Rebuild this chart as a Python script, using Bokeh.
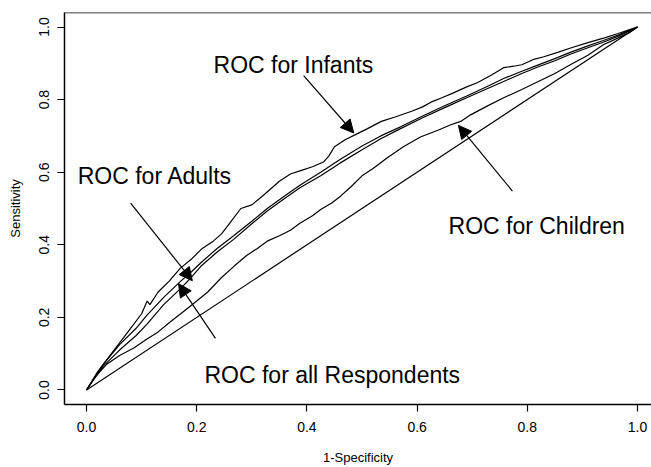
from bokeh.plotting import figure
from bokeh.models import Range1d, Arrow, NormalHead, Span, Label, FixedTicker
from bokeh.embed import file_html
from bokeh.resources import INLINE

# ---- data ----
chance_x = [0.0, 1.0]
chance_y = [0.0, 1.0]

infants_x = [0.0, 0.02, 0.04, 0.06, 0.08, 0.10, 0.11, 0.115, 0.13, 0.15, 0.17, 0.19, 0.21, 0.23,
             0.245, 0.26, 0.28, 0.30, 0.32, 0.335, 0.35, 0.37, 0.39, 0.41, 0.43, 0.44, 0.45, 0.47,
             0.49, 0.51, 0.535, 0.56, 0.59, 0.61, 0.625, 0.645, 0.665, 0.69, 0.71, 0.735, 0.757,
             0.775, 0.79, 0.81, 0.83, 0.855, 0.88, 0.91, 0.94, 0.965, 0.99, 1.0]
infants_y = [0.0, 0.05, 0.09, 0.13, 0.17, 0.21, 0.245, 0.235, 0.27, 0.30, 0.335, 0.36, 0.39, 0.41,
             0.43, 0.46, 0.50, 0.51, 0.535, 0.555, 0.575, 0.595, 0.605, 0.615, 0.628, 0.645, 0.67, 0.69,
             0.705, 0.72, 0.74, 0.752, 0.768, 0.78, 0.793, 0.805, 0.818, 0.835, 0.847, 0.868, 0.888,
             0.892, 0.896, 0.91, 0.918, 0.93, 0.943, 0.957, 0.97, 0.982, 0.995, 1.0]

adults_x = [0.0, 0.03, 0.06, 0.09, 0.109, 0.14, 0.171, 0.19, 0.207, 0.237, 0.267, 0.30, 0.328, 0.36,
            0.388, 0.425, 0.46, 0.50, 0.534, 0.57, 0.61, 0.65, 0.69, 0.73, 0.757, 0.79, 0.819, 0.85,
            0.878, 0.91, 0.938, 0.965, 0.987, 1.0]
adults_y = [0.0, 0.07, 0.125, 0.17, 0.205, 0.255, 0.30, 0.325, 0.35, 0.39, 0.425, 0.465, 0.50, 0.535,
            0.565, 0.60, 0.635, 0.672, 0.70, 0.725, 0.755, 0.783, 0.81, 0.838, 0.858, 0.878, 0.895, 0.913,
            0.93, 0.948, 0.963, 0.978, 0.992, 1.0]

all_x = [0.0, 0.03, 0.06, 0.09, 0.109, 0.14, 0.171, 0.19, 0.207, 0.237, 0.267, 0.30, 0.328, 0.36,
         0.388, 0.425, 0.46, 0.50, 0.534, 0.57, 0.61, 0.65, 0.69, 0.73, 0.757, 0.79, 0.819, 0.85,
         0.878, 0.91, 0.938, 0.965, 0.987, 1.0]
all_y = [0.0, 0.065, 0.11, 0.15, 0.18, 0.235, 0.28, 0.31, 0.34, 0.38, 0.415, 0.458, 0.493, 0.528,
         0.558, 0.59, 0.625, 0.662, 0.692, 0.72, 0.75, 0.778, 0.805, 0.832, 0.85, 0.872, 0.89, 0.907,
         0.925, 0.943, 0.958, 0.975, 0.99, 1.0]

children_x = [0.0, 0.015, 0.036, 0.06, 0.085, 0.109, 0.13, 0.15, 0.175, 0.20, 0.22, 0.245, 0.267, 0.29,
              0.31, 0.328, 0.35, 0.37, 0.388, 0.41, 0.425, 0.445, 0.461, 0.48, 0.50, 0.52, 0.546, 0.575,
              0.606, 0.64, 0.66, 0.679, 0.697, 0.727, 0.757, 0.79, 0.819, 0.85, 0.878, 0.91, 0.938,
              0.965, 0.987, 1.0]
children_y = [0.0, 0.035, 0.07, 0.095, 0.115, 0.14, 0.16, 0.185, 0.215, 0.245, 0.27, 0.31, 0.34, 0.37,
              0.39, 0.41, 0.425, 0.44, 0.46, 0.48, 0.497, 0.515, 0.534, 0.56, 0.59, 0.61, 0.64, 0.67,
              0.697, 0.717, 0.73, 0.74, 0.758, 0.782, 0.805, 0.828, 0.849, 0.872, 0.896, 0.922, 0.951,
              0.97, 0.986, 1.0]

tick_values = [0.0, 0.2, 0.4, 0.6, 0.8, 1.0]
tick_labels = ["0.0", "0.2", "0.4", "0.6", "0.8", "1.0"]

# annotation texts: (text, x, y) and arrows: (x_start, y_start, x_end, y_end)
notes = [
    ("ROC for Infants", 0.2305, 0.896),
    ("ROC for Adults", -0.016, 0.589),
    ("ROC for Children", 0.657, 0.452),
    ("ROC for all Respondents", 0.214, 0.041),
]
arrows = [
    (0.394, 0.866, 0.485, 0.708),
    (0.773, 0.548, 0.675, 0.729),
    (0.080, 0.515, 0.192, 0.301),
    (0.234, 0.142, 0.167, 0.293),
]

FONT = "Liberation Sans"

p = figure(width=651, height=467, output_backend="svg", toolbar_location=None,
           x_range=Range1d(-0.04, 1.0254), y_range=Range1d(-0.04, 1.04),
           min_border_left=64, min_border_right=0, min_border_top=12, min_border_bottom=60)
p.outline_line_color = None
p.grid.visible = False
p.background_fill_color = "white"
p.border_fill_color = "white"

curves = [(chance_x, chance_y), (infants_x, infants_y), (adults_x, adults_y),
          (all_x, all_y), (children_x, children_y)]
for xs, ys in curves:
    p.line(xs, ys, line_color="black", line_width=1.2)

for ax in (p.xaxis[0], p.yaxis[0]):
    ax.ticker = FixedTicker(ticks=tick_values)
    ax.major_label_overrides = {v: s for v, s in zip(tick_values, tick_labels)}
    ax.minor_tick_line_color = None
    ax.major_tick_in = 0
    ax.major_tick_out = 7
    ax.major_tick_line_color = "black"
    ax.major_tick_line_width = 1.2
    ax.axis_line_color = "black"
    ax.axis_line_width = 1.5
    ax.major_label_text_font = FONT
    ax.major_label_text_font_size = "14px"
    ax.major_label_text_color = "black"
    ax.axis_label_text_font = FONT
    ax.axis_label_text_font_size = "13px"
    ax.axis_label_text_font_style = "normal"
    ax.axis_label_text_color = "black"

p.xaxis.axis_label = "1-Specificity"
p.yaxis.axis_label = "Sensitivity"
p.xaxis.major_label_standoff = 10
p.xaxis.axis_label_standoff = 15
p.yaxis.major_label_standoff = 8
p.yaxis.axis_label_standoff = 14
p.yaxis.major_label_orientation = "vertical"

p.add_layout(Span(location=1.04, dimension="width", line_color="black", line_width=1.5))

for txt, x, y in notes:
    p.add_layout(Label(x=x, y=y, text=txt, text_font=FONT, text_font_size="23px",
                       text_color="black", text_baseline="alphabetic", text_align="left"))

for x0, y0, x1, y1 in arrows:
    p.add_layout(Arrow(end=NormalHead(size=13, fill_color="black", line_color="black", line_width=1),
                       x_start=x0, y_start=y0, x_end=x1, y_end=y1,
                       line_color="black", line_width=1.2))

open("out.html", "w").write(file_html(p, INLINE))
